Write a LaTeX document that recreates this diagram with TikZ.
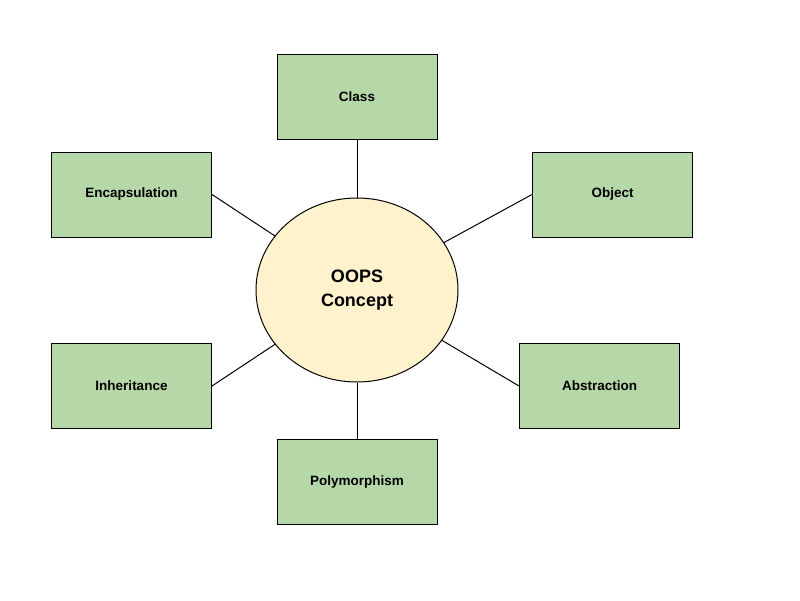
\documentclass[tikz,border=0pt]{standalone}
\usepackage{fontspec}
\setmainfont{Liberation Sans}
\usetikzlibrary{shapes.geometric}
\definecolor{boxg}{HTML}{B6D7A8}
\definecolor{ellc}{HTML}{FFF2CC}
\begin{document}
\begin{tikzpicture}[x=1pt,y=-1pt,
  box/.style={draw,fill=boxg,line width=1pt,minimum width=160pt,minimum height=85pt,font=\bfseries\fontsize{13.5}{16}\selectfont},
  link/.style={line width=1pt}]
\useasboundingbox (0,0) rectangle (800,600);
\node[draw,fill=ellc,line width=1pt,ellipse,minimum width=202pt,minimum height=184pt,align=center,font=\bfseries\fontsize{18}{24}\selectfont] (c) at (357,290) {OOPS\\Concept};
\node[box] (cls) at (357,96.5) {Class};
\node[box] (enc) at (131.5,194.5) {Encapsulation};
\node[box] (obj) at (612.5,194.5) {Object};
\node[box] (inh) at (131.5,386) {Inheritance};
\node[box] (abs) at (599.5,386) {Abstraction};
\node[box] (pol) at (357,482) {Polymorphism};
\draw[link] (cls) -- (c);
\draw[link] (pol) -- (c);
\draw[link] (enc.east) -- (c);
\draw[link] (obj.west) -- (c);
\draw[link] (inh.east) -- (c);
\draw[link] (abs.west) -- (c);
\end{tikzpicture}
\end{document}
